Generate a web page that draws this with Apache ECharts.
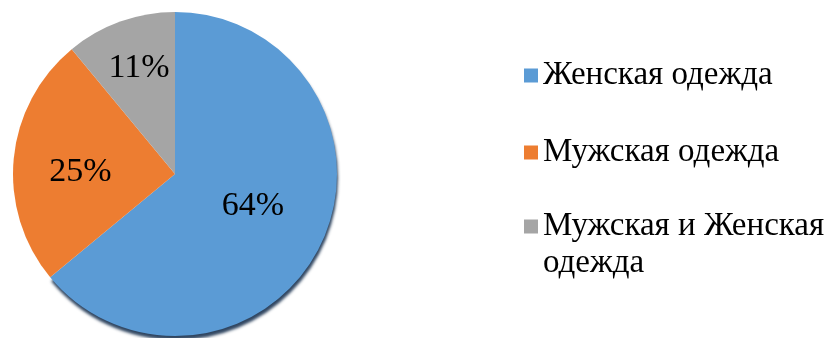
<!DOCTYPE html>
<html>
<head>
<meta charset="utf-8">
<script src="https://cdn.jsdelivr.net/npm/echarts@6/dist/echarts.min.js"></script>
<style>
  html, body { margin: 0; padding: 0; background: #ffffff; }
  #chart { width: 829px; height: 338px; }
</style>
</head>
<body>
<div id="chart"></div>
<script>
// Clothing categories and their shares (%)
const categories = ['Женская одежда', 'Мужская одежда', 'Мужская и Женская одежда'];
const shares = [64, 25, 11];
const colors = ['#5B9BD5', '#ED7D31', '#A5A5A5'];

const serif = 'Liberation Serif';
const pieCenter = [175, 174];
const pieRadius = 162;
// nudges for the inside labels: radial factor and pixel shift
const labelPush = [1.0, 1.12, 1.3];
const labelShift = [[2, -4], [-1, 7], [1, -3]];

const chart = echarts.init(document.getElementById('chart'), null, { renderer: 'canvas' });

const data = categories.map((name, i) => {
  const item = { name: name, value: shares[i], itemStyle: { color: colors[i] } };
  if (i === 0) {
    // darker rim along the lower edge of the large slice
    item.itemStyle.shadowColor = 'rgba(25, 50, 80, 0.9)';
    item.itemStyle.shadowBlur = 3;
    item.itemStyle.shadowOffsetY = 4;
    item.itemStyle.shadowOffsetX = 1;
  }
  return item;
});

const legendText = { fontFamily: serif, fontSize: 33, color: '#000' };

chart.setOption({
  animation: false,
  legend: [
    {
      orient: 'vertical',
      left: 519,
      top: 54,
      itemWidth: 14,
      itemHeight: 14,
      itemGap: 44,
      icon: 'rect',
      data: categories.slice(0, 2),
      textStyle: legendText
    },
    {
      orient: 'vertical',
      left: 519,
      top: 166,
      itemWidth: 14,
      itemHeight: 14,
      icon: 'rect',
      data: [categories[2]],
      // blank first line keeps the icon level with the first text line
      formatter: () => ' \nМужская и Женская\nодежда',
      textStyle: Object.assign({ lineHeight: 37 }, legendText)
    }
  ],
  series: [{
    type: 'pie',
    center: pieCenter,
    radius: pieRadius,
    startAngle: 90,
    clockwise: true,
    silent: true,
    data: data,
    label: {
      position: 'inside',
      formatter: '{d}%',
      fontFamily: serif,
      fontSize: 34,
      color: '#000'
    },
    labelLine: { show: false },
    labelLayout: function (p) {
      const i = p.dataIndex;
      const k = labelPush[i];
      const lx = p.labelRect.x + p.labelRect.width / 2;
      const ly = p.labelRect.y + p.labelRect.height / 2;
      return {
        x: pieCenter[0] + (lx - pieCenter[0]) * k + labelShift[i][0],
        y: pieCenter[1] + (ly - pieCenter[1]) * k + labelShift[i][1]
      };
    }
  }]
});
</script>
</body>
</html>
